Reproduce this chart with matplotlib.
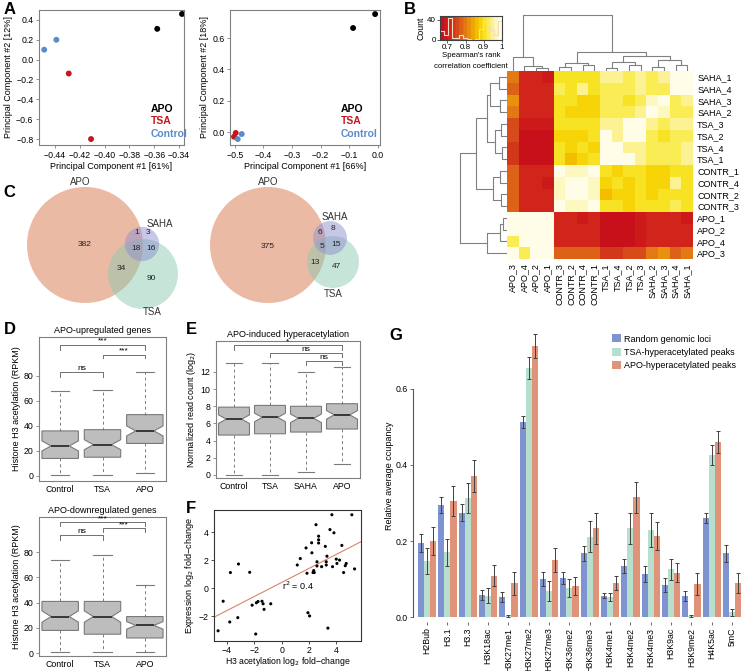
import numpy as np
import matplotlib
matplotlib.use("Agg")
import matplotlib.pyplot as plt
from matplotlib.patches import Circle
from matplotlib.colors import LinearSegmentedColormap

plt.rcParams['font.family'] = ['Liberation Sans', 'DejaVu Sans']
plt.rcParams['font.size'] = 6.5

# ---------------- data ----------------
# A: PCA
pca_groups = ["APO", "TSA", "Control"]
pca_colors = ["black", "#c4161c", "#5b8bc9"]
pc1_left = [[-0.3576, -0.3376], [-0.429, -0.411], [-0.4488, -0.439]]
pc2_left = [[0.31, 0.46], [-0.14, -0.80], [0.10, 0.20]]
pc1_right = [[-0.087, -0.01], [-0.503, -0.497], [-0.49, -0.476]]
pc2_right = [[0.664, 0.753], [-0.03, -0.006], [-0.045, -0.013]]

# B: spearman correlation (columns left->right, rows bottom->top)
samples = ["APO_3", "APO_4", "APO_2", "APO_1", "CONTR_3", "CONTR_2", "CONTR_4", "CONTR_1",
           "TSA_1", "TSA_4", "TSA_2", "TSA_3", "SAHA_2", "SAHA_3", "SAHA_4", "SAHA_1"]
corr = np.array([
    [1.00, 0.93, 0.98, 0.98, 0.78, 0.77, 0.77, 0.77, 0.74, 0.74, 0.75, 0.76, 0.79, 0.81, 0.78, 0.79],
    [0.93, 1.00, 0.98, 0.98, 0.71, 0.71, 0.71, 0.72, 0.67, 0.67, 0.68, 0.69, 0.72, 0.72, 0.71, 0.71],
    [0.98, 0.98, 1.00, 0.99, 0.71, 0.71, 0.71, 0.71, 0.67, 0.67, 0.67, 0.69, 0.71, 0.72, 0.71, 0.71],
    [0.98, 0.98, 0.99, 1.00, 0.71, 0.71, 0.70, 0.71, 0.67, 0.67, 0.68, 0.69, 0.71, 0.71, 0.71, 0.70],
    [0.78, 0.71, 0.71, 0.71, 1.00, 0.96, 0.96, 0.99, 0.90, 0.90, 0.89, 0.90, 0.90, 0.91, 0.92, 0.90],
    [0.77, 0.71, 0.71, 0.71, 0.96, 1.00, 0.98, 0.96, 0.86, 0.88, 0.88, 0.90, 0.89, 0.90, 0.90, 0.90],
    [0.77, 0.71, 0.71, 0.70, 0.96, 0.98, 1.00, 0.96, 0.89, 0.90, 0.89, 0.90, 0.88, 0.88, 0.94, 0.90],
    [0.77, 0.72, 0.71, 0.71, 0.99, 0.96, 0.96, 1.00, 0.90, 0.89, 0.90, 0.90, 0.88, 0.89, 0.90, 0.90],
    [0.74, 0.67, 0.67, 0.67, 0.90, 0.86, 0.89, 0.90, 1.00, 0.99, 0.99, 0.95, 0.93, 0.92, 0.92, 0.94],
    [0.74, 0.67, 0.67, 0.67, 0.90, 0.88, 0.90, 0.89, 0.99, 1.00, 0.95, 0.95, 0.93, 0.92, 0.93, 0.94],
    [0.75, 0.68, 0.67, 0.68, 0.89, 0.88, 0.89, 0.90, 0.99, 0.95, 1.00, 0.99, 0.92, 0.91, 0.92, 0.93],
    [0.76, 0.69, 0.69, 0.69, 0.90, 0.90, 0.90, 0.90, 0.95, 0.95, 0.99, 1.00, 0.94, 0.93, 0.95, 0.95],
    [0.79, 0.72, 0.71, 0.71, 0.90, 0.89, 0.88, 0.88, 0.93, 0.93, 0.92, 0.94, 1.00, 0.97, 0.93, 0.93],
    [0.81, 0.72, 0.72, 0.71, 0.91, 0.90, 0.88, 0.89, 0.92, 0.92, 0.91, 0.93, 0.97, 1.00, 0.93, 0.95],
    [0.78, 0.71, 0.71, 0.71, 0.92, 0.90, 0.94, 0.90, 0.92, 0.93, 0.92, 0.95, 0.93, 0.93, 1.00, 0.98],
    [0.79, 0.71, 0.71, 0.70, 0.90, 0.90, 0.90, 0.90, 0.94, 0.94, 0.93, 0.95, 0.93, 0.95, 0.98, 1.00],
])
# dendrograms: (left, right, height)
col_tree = ((0, (1, (2, 3, 0.05), 0.09), 0.25),
            (((4, 5, 0.08), (6, 7, 0.10), 0.14),
             (((8, 9, 0.06), (10, 11, 0.10), 0.16), ((12, 13, 0.07), (14, 15, 0.10), 0.20), 0.27),
             0.34), 1.0)
row_tree = ((0, (1, (2, 3, 0.08), 0.15), 0.43),
            (((4, 5, 0.12), (6, 7, 0.15), 0.30),
             (((8, 9, 0.10), (10, 11, 0.12), 0.25), ((12, 13, 0.15), (14, 15, 0.17), 0.36), 0.43),
             0.66), 1.0)

# C: venn counts (apo, saha, tsa, apo&saha, apo&tsa, saha&tsa, all)
venn_left = [382, 3, 90, 1, 34, 16, 18]
venn_right = [375, 8, 47, 6, 13, 15, 5]

# D: boxplots
d_groups = ["Control", "TSA", "APO"]
up_low = [1, 1, 2]
up_q1 = [14, 15, 26]
up_med = [24, 25, 36]
up_q3 = [36, 37, 49]
up_high = [68, 69, 83]
up_notch = [4, 4, 4]
down_low = [1, 1, 1]
down_q1 = [18, 15, 12]
down_med = [29, 29, 22]
down_q3 = [41, 41, 29]
down_high = [74, 78, 54]
down_notch = [4.5, 4.5, 3]

# E
e_groups = ["Control", "TSA", "SAHA", "APO"]
e_low = [0.0, 0.0, 0.35, 1.3]
e_q1 = [4.65, 4.8, 5.0, 5.35]
e_med = [6.5, 6.7, 6.6, 7.0]
e_q3 = [7.9, 8.1, 8.0, 8.3]
e_high = [13.0, 13.0, 12.0, 12.6]
e_notch = [0.5, 0.5, 0.5, 0.5]

# F: scatter
f_x = [3.67, 5.13, 2.51, 3.53, 3.82, 2.70, 2.70, 2.70, 2.19, 4.40, 3.19, 1.78, 2.21, 3.31, 1.36,
       3.99, 4.23, 2.58, 3.26, 4.04, 4.72, 3.26, 4.65, 1.14, 2.58, 2.92, 3.72, 5.33, 2.34, 2.38,
       2.29, 1.85, 4.53, -3.16, -2.34, -3.75, -2.16, -1.85, -1.73, -1.44, -1.36, -1.29, -0.80,
       -3.21, -3.80, 1.92, 2.04, 3.38, -1.90, -4.28, -4.65]
f_y = [5.26, 5.26, 4.55, 4.20, 3.97, 3.73, 3.47, 3.24, 3.26, 3.07, 3.00, 2.89, 2.54, 2.30, 2.13,
       2.09, 2.02, 1.90, 1.90, 1.78, 1.78, 1.67, 1.62, 1.67, 1.60, 1.55, 1.55, 1.39, 1.27, 1.13,
       1.13, 1.08, 1.13, 1.74, 1.15, 1.13, -1.20, -1.03, -0.94, -0.92, -1.10, -1.50, -1.10,
       -2.09, -2.40, -1.74, -1.97, -2.84, -3.26, -0.92, -3.03]

# G: bars
marks = ["H2Bub", "H3.1", "H3.3", "H3K18ac", "H3K27me1", "H3K27me2", "H3K27me3", "H3K36me2",
         "H3K36me3", "H3K4me1", "H3K4me2", "H3K4me3", "H3K9ac", "H3K9me2", "H4K5ac", "5mC"]
random_vals = [0.195, 0.295, 0.275, 0.058, 0.052, 0.514, 0.100, 0.102, 0.168, 0.056, 0.135, 0.113, 0.084, 0.056, 0.260, 0.168]
random_err = [0.024, 0.022, 0.022, 0.013, 0.013, 0.016, 0.018, 0.016, 0.020, 0.007, 0.018, 0.021, 0.018, 0.013, 0.013, 0.022]
tsa_vals = [0.148, 0.170, 0.313, 0.056, 0.003, 0.654, 0.068, 0.077, 0.211, 0.053, 0.233, 0.229, 0.126, 0.003, 0.426, 0.012]
tsa_err = [0.034, 0.035, 0.040, 0.020, 0.002, 0.029, 0.026, 0.023, 0.041, 0.010, 0.040, 0.044, 0.028, 0.002, 0.026, 0.008]
apo_vals = [0.200, 0.305, 0.372, 0.109, 0.089, 0.713, 0.150, 0.082, 0.233, 0.089, 0.315, 0.213, 0.117, 0.086, 0.460, 0.089]
apo_err = [0.037, 0.040, 0.042, 0.028, 0.030, 0.031, 0.032, 0.023, 0.040, 0.018, 0.040, 0.036, 0.024, 0.029, 0.029, 0.027]
g_series = ["Random genomic loci", "TSA-hyperacetylated peaks", "APO-hyperacetylated peaks"]
g_colors = ["#7f93d1", "#b6dfcd", "#df9378"]

# ---------------- layout helpers ----------------
W, H = 742, 671
fig = plt.figure(figsize=(W / 100, H / 100), dpi=100)
GRAY = "#808080"
TS = 6.3  # tick label size


def add_ax(x0, y0, x1, y1):
    return fig.add_axes([x0 / W, 1 - y1 / H, (x1 - x0) / W, (y1 - y0) / H])


def panel_label(x, y, s):
    fig.text(x / W, 1 - y / H, s, fontsize=12, fontweight="bold", va="top", ha="left")


def style(ax, color=GRAY):
    for sp in ax.spines.values():
        sp.set_color(color)
        sp.set_linewidth(0.8)
    ax.tick_params(length=2.5, width=0.6, color=color, labelsize=TS, pad=1.5)


def minus(s):
    return s.replace("-", "\u2212")


# ---------------- A ----------------
for (x0, x1), pc1, pc2, xl, yl, xt, yt, xfmt, xlab, ylab, lx in [
        ((39, 184), pc1_left, pc2_left, (-0.453, -0.336), (-0.86, 0.50),
         np.arange(-0.44, -0.339, 0.02), np.arange(-0.8, 0.41, 0.2), "{:.2f}",
         "Principal Component #1 [61%]", "Principal Component #2 [12%]", 0.77),
        ((230, 380), pc1_right, pc2_right, (-0.517, 0.007), (-0.083, 0.779),
         np.arange(-0.5, 0.01, 0.1), np.arange(0.0, 0.61, 0.2), "{:.1f}",
         "Principal Component #1 [66%]", "Principal Component #2 [18%]", 0.74)]:
    ax = add_ax(x0, 10, x1, 145)
    style(ax)
    for i in range(3):
        ax.scatter(pc1[i], pc2[i], s=18, color=pca_colors[i], edgecolors="none", zorder=3)
    ax.set_xlim(*xl)
    ax.set_ylim(*yl)
    ax.set_xticks(xt)
    ax.set_xticklabels([minus(xfmt.format(v + 0.0)) if abs(v) > 1e-9 else "0.0" for v in xt])
    ax.set_yticks(yt)
    ax.set_yticklabels([minus(f"{v:.1f}") if abs(v) > 1e-9 else "0.0" for v in yt])
    ax.set_xlabel(xlab, labelpad=2)
    ax.set_ylabel(ylab, labelpad=2)
    for i, gname in enumerate(pca_groups):
        ax.text(lx, 0.27 - 0.095 * i, gname, color=pca_colors[i], transform=ax.transAxes,
                fontsize=7.5, fontweight="bold", va="center")

# ---------------- B ----------------
cmap = LinearSegmentedColormap.from_list(
    "heat", [(0.0, "#c8101a"), (0.12, "#d0201a"), (0.26, "#d6481a"), (0.41, "#e47c14"),
             (0.56, "#f0b000"), (0.65, "#f6d000"), (0.76, "#f9e830"), (0.88, "#fcf3a0"),
             (1.0, "#fffde8")], N=16)
vmin, vmax = 0.66, 1.0
n = len(samples)
hm = add_ax(507, 71, 693, 259)
hm.pcolormesh(np.arange(n + 1), np.arange(n + 1), corr, cmap=cmap, vmin=vmin, vmax=vmax)
hm.set_xlim(0, n)
hm.set_ylim(0, n)
hm.yaxis.tick_right()
hm.set_yticks(np.arange(n) + 0.5)
hm.set_yticklabels(samples, fontsize=6.5)
hm.set_xticks(np.arange(n) + 0.5)
hm.set_xticklabels(samples, rotation=90, fontsize=6.5)
hm.tick_params(length=0, pad=3)
for sp in hm.spines.values():
    sp.set_visible(False)


def draw_tree(ax, node, horizontal):
    if isinstance(node, int):
        return node + 0.5, 0.0
    left, right, h = node
    xl, hl = draw_tree(ax, left, horizontal)
    xr, hr = draw_tree(ax, right, horizontal)
    px = [xl, xl, xr, xr]
    py = [hl, h, h, hr]
    if horizontal:
        ax.plot(px, py, color=GRAY, lw=0.8)
    else:
        ax.plot(py, px, color=GRAY, lw=0.8)
    return (xl + xr) / 2, h


dt = add_ax(507, 12, 693, 71)
draw_tree(dt, col_tree, True)
dt.set_xlim(0, n)
dt.set_ylim(0, 1.054)
dt.axis("off")
dl = add_ax(458, 71, 507, 259)
draw_tree(dl, row_tree, False)
dl.set_ylim(0, n)
dl.set_xlim(1.043, 0)
dl.axis("off")

key = add_ax(440, 16, 502, 40)
key.imshow(np.linspace(vmin, vmax, 256)[None, :], extent=[vmin, vmax, 0, 48], aspect="auto",
           cmap=cmap, vmin=vmin, vmax=vmax)
counts, edges = np.histogram(corr.ravel(), bins=np.linspace(vmin, vmax, 17))
key.step(edges, np.append(counts, counts[-1]), where="post", color="#f3dcc0", lw=0.8)
key.set_xlim(vmin, vmax)
key.set_ylim(0, 48)
key.set_yticks([0, 40])
key.set_xticks([0.7, 0.8, 0.9, 1.0])
key.set_xticklabels(["0.7", "0.8", "0.9", "1"])
style(key, "#404040")
key.tick_params(labelsize=5.8, length=2, pad=1)
key.set_ylabel("Count", fontsize=6.3, labelpad=1)
fig.text(471 / W, 1 - 52 / H, "Spearman's rank\ncorrelation coefficient", ha="center", va="top",
         fontsize=5.6, linespacing=1.7)

# ---------------- C ----------------
vc = add_ax(0, 150, 460, 330)
vc.set_xlim(0, 460)
vc.set_ylim(330, 150)
vc.axis("off")
venn_colors = ["#d9825a", "#9090d0", "#8fcbb0"]
venn_alpha = [0.55, 0.5, 0.5]
for counts_v, centers, label_pos, num_pos in [
        (venn_left, [(85, 245), (142, 244), (143, 274)],
         [(80, 182), (160, 224), (152, 312)],
         [(85, 244), (148, 232), (151, 278), (137, 232), (121, 268), (151, 248), (136, 248)]),
        (venn_right, [(268, 245), (330, 238), (333, 262)],
         [(268, 182), (335, 217), (333, 294)],
         [(268, 247), (333, 229), (336, 266), (320, 232), (315, 263), (336, 244), (322, 247)])]:
    a, s, t, a_s, a_t, s_t, allv = counts_v
    sizes = [a + a_s + a_t + allv, s + a_s + s_t + allv, t + a_t + s_t + allv]
    radii = [58 * np.sqrt(sz / sizes[0]) for sz in sizes]
    for k in [0, 2, 1]:
        vc.add_patch(Circle(centers[k], radii[k], facecolor=venn_colors[k], alpha=venn_alpha[k],
                            edgecolor="none"))
    for name, (lx, ly) in zip(["APO", "SAHA", "TSA"], label_pos):
        vc.text(lx, ly, name, ha="center", va="center", fontsize=7, color="#333333")
    for val, (nx, ny) in zip(counts_v, num_pos):
        vc.text(nx, ny, str(val), ha="center", va="center", fontsize=6, color="#222222")


# ---------------- D / E boxplots ----------------
def boxes(ax, low, q1, med, q3, high, notch, labels):
    stats = []
    for i in range(len(labels)):
        stats.append(dict(whislo=low[i], q1=q1[i], med=med[i], q3=q3[i], whishi=high[i],
                          cilo=med[i] - notch[i], cihi=med[i] + notch[i], fliers=[]))
    ax.bxp(stats, positions=np.arange(1, len(labels) + 1), widths=0.86, shownotches=True,
           showfliers=False, patch_artist=True,
           boxprops=dict(facecolor="#bdbdbd", edgecolor="#7a7a7a", lw=0.8),
           whiskerprops=dict(color="#7a7a7a", lw=0.7, linestyle=(0, (3, 3))),
           capprops=dict(color="#7a7a7a", lw=0.8),
           medianprops=dict(color="#222222", lw=1.2))
    ax.set_xlim(0.5, len(labels) + 0.5)
    ax.set_xticks(np.arange(1, len(labels) + 1))
    ax.set_xticklabels(labels, fontsize=6.8)
    style(ax)
    ax.tick_params(axis="x", length=0, pad=3)


def bracket(ax, x1, x2, y, drop, text):
    ax.plot([x1, x1, x2, x2], [y - drop, y, y, y - drop], color="#707070", lw=0.7)
    ax.text((x1 + x2) / 2, y, text, ha="center", va="bottom", fontsize=6)


d1 = add_ax(39, 337, 166, 481)
boxes(d1, up_low, up_q1, up_med, up_q3, up_high, up_notch, d_groups)
d1.set_ylim(-4, 111)
d1.set_yticks([0, 20, 40, 60, 80])
d1.set_ylabel("Histone H3 acetylation (RPKM)", labelpad=2)
d1.text(0.5, 1.015, "APO-upregulated genes", transform=d1.transAxes, ha="center", va="bottom")
bracket(d1, 1, 3, 105, 4, "***")
bracket(d1, 2, 3, 97, 3, "***")
bracket(d1, 1, 2, 83, 4, "ns")

d2 = add_ax(39, 517, 166, 656)
boxes(d2, down_low, down_q1, down_med, down_q3, down_high, down_notch, d_groups)
d2.set_ylim(-2.3, 108)
d2.set_yticks([0, 20, 40, 60, 80])
d2.set_ylabel("Histone H3 acetylation (RPKM)", labelpad=2)
d2.text(0.5, 1.015, "APO-downregulated genes", transform=d2.transAxes, ha="center", va="bottom")
bracket(d2, 1, 3, 104, 3, "***")
bracket(d2, 2, 3, 99, 3, "***")
bracket(d2, 1, 2, 94, 4, "ns")

e = add_ax(216, 341, 360, 478)
boxes(e, e_low, e_q1, e_med, e_q3, e_high, e_notch, e_groups)
e.set_ylim(-0.35, 15.6)
e.set_yticks(np.arange(0, 13, 2))
e.set_ylabel("Normalized read count (log$_2$)", labelpad=2)
e.text(0.5, 1.015, "APO-induced hyperacetylation", transform=e.transAxes, ha="center", va="bottom")
bracket(e, 1, 4, 15.1, 0.5, "*")
bracket(e, 2, 4, 14.2, 0.5, "ns")
bracket(e, 3, 4, 13.3, 0.5, "ns")

# ---------------- F ----------------
f = add_ax(214, 510, 361, 641)
f.scatter(f_x, f_y, s=5, color="black", edgecolors="none", zorder=3)
slope, intercept = np.polyfit(f_x, f_y, 1)
xx = np.array([-6, 7])
f.plot(xx, slope * xx + intercept, color="#d9836f", lw=0.8)
f.set_xlim(-4.95, 5.8)
f.set_ylim(-3.76, 5.6)
f.set_xticks([-4, -2, 0, 2, 4])
f.set_xticklabels(["\u22124", "\u22122", "0", "2", "4"])
f.set_yticks([-2, 0, 2, 4])
f.set_yticklabels(["\u22122", "0", "2", "4"])
style(f, "#333333")
f.tick_params(axis="x", pad=1)
f.text(0.05, 0.15, "r$^2$ = 0.4", fontsize=6.5, va="center")
f.set_xlabel("H3 acetylation log$_2$ fold\u2212change", labelpad=0, fontsize=6.3)
f.set_ylabel("Expression log$_2$ fold\u2212change", labelpad=2)

# ---------------- G ----------------
g = add_ax(413, 330, 742, 622)
xg = np.arange(len(marks))
bw = 0.3
for k, (vals, errs) in enumerate([(random_vals, random_err), (tsa_vals, tsa_err), (apo_vals, apo_err)]):
    g.bar(xg + (k - 1) * bw, vals, width=bw, color=g_colors[k], label=g_series[k],
          yerr=errs, error_kw=dict(ecolor="#404040", elinewidth=0.7, capsize=1.2, capthick=0.7))
g.set_xlim(-0.69, 15.49)
g.set_ylim(-0.013, 0.755)
g.set_yticks([0.0, 0.2, 0.4, 0.6])
g.set_xticks(xg)
g.set_xticklabels(marks, rotation=90, fontsize=6.5)
style(g, "#555555")
g.spines["top"].set_visible(False)
g.spines["right"].set_visible(False)
g.spines["bottom"].set_visible(False)
g.spines["left"].set_bounds(0, 0.6)
g.tick_params(axis="x", length=2, pad=2)
g.set_ylabel("Relative average ccupancy", labelpad=1)
g.legend(loc="upper left", bbox_to_anchor=(0.605, 0.985), frameon=False, fontsize=6.5,
         handlelength=1.0, handleheight=1.0, handletextpad=0.3, labelspacing=0.45,
         borderaxespad=0, borderpad=0)

# ---------------- panel letters ----------------
for x, y, s in [(4, 2, "A"), (404, 2, "B"), (3, 185, "C"), (4, 322, "D"), (186, 322, "E"),
                (186, 501, "F"), (389, 328, "G")]:
    panel_label(x, y, s)

fig.savefig("out.png", dpi=100)
